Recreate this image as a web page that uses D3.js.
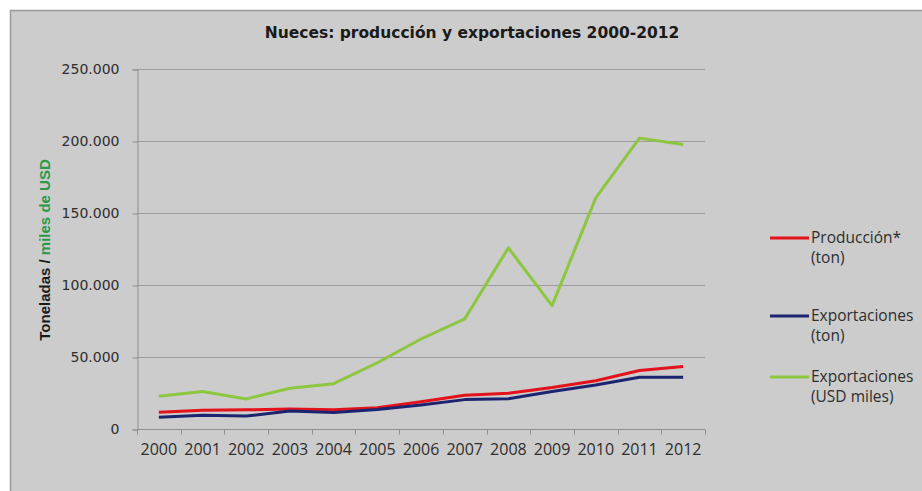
<!DOCTYPE html>
<html>
<head>
<meta charset="utf-8">
<script src="https://cdn.jsdelivr.net/npm/d3@7"></script>
<style>
  body { margin: 0; background: #fff; }
  svg { display: block; }
</style>
</head>
<body>
<script>
// data
var years = ['2000','2001','2002','2003','2004','2005','2006','2007','2008','2009','2010','2011','2012'];
var produccionTon = [11600, 13000, 13300, 13900, 13300, 14800, 19000, 23500, 24800, 28800, 33500, 40600, 43400];
var exportTon = [8100, 9600, 9000, 12500, 11500, 13500, 16700, 20400, 21000, 26000, 30600, 36000, 36000];
var exportUsd = [22800, 26000, 20900, 28300, 31500, 46000, 62500, 76500, 125800, 85700, 160500, 202000, 197500];
var yTicks = [0, 50000, 100000, 150000, 200000, 250000];

var series = [
  { name: ['Producción*', '(ton)'], values: produccionTon, color: '#e3121b' },
  { name: ['Exportaciones', '(ton)'], values: exportTon, color: '#1c2470' },
  { name: ['Exportaciones', '(USD miles)'], values: exportUsd, color: '#8dc63f' }
];

var W = 922, H = 491;
var plot = { left: 137, right: 705, top: 69, bottom: 429 };

var svg = d3.select('body').append('svg')
  .attr('width', W)
  .attr('height', H);

// chart frame
svg.append('rect')
  .attr('x', 10.5).attr('y', 10.5)
  .attr('width', W + 10).attr('height', H + 10)
  .attr('fill', '#cccccc')
  .attr('stroke', '#9a9a9a')
  .attr('stroke-width', 1.5);

var x = d3.scaleBand()
  .domain(years)
  .range([plot.left, plot.right])
  .paddingInner(0).paddingOuter(0);

var y = d3.scaleLinear()
  .domain([0, 250000])
  .range([plot.bottom, plot.top]);

// gridlines
svg.append('g').selectAll('line')
  .data(yTicks.filter(d => d > 0))
  .enter().append('line')
  .attr('x1', plot.left).attr('x2', plot.right)
  .attr('y1', d => y(d) + 0.5).attr('y2', d => y(d) + 0.5)
  .attr('stroke', '#9b9b9b')
  .attr('stroke-width', 1.2);

// y axis
var yAxis = d3.axisLeft(y)
  .tickValues(yTicks)
  .tickSize(5)
  .tickPadding(13)
  .tickFormat(d => d === 0 ? '0' : d3.format(',')(d).replace(/,/g, '.'));

var gy = svg.append('g')
  .attr('transform', 'translate(' + (plot.left + 0.5) + ',0.5)')
  .call(yAxis);
gy.select('.domain').attr('stroke', '#8f8f8f');
gy.selectAll('.tick line').attr('stroke', '#8f8f8f');
gy.selectAll('text')
  .attr('fill', '#2e2e2e')
  .style('font-family', '"DejaVu Sans", Verdana, sans-serif')
  .style('font-size', '14px');

// x axis: ticks between categories
var gx = svg.append('g')
  .attr('transform', 'translate(0,' + (plot.bottom + 0.5) + ')');
gx.append('line')
  .attr('x1', plot.left).attr('x2', plot.right)
  .attr('stroke', '#8f8f8f');
var edges = years.map(d => x(d)).concat([x(years[years.length - 1]) + x.bandwidth()]);
gx.selectAll('.tk')
  .data(edges)
  .enter().append('line')
  .attr('class', 'tk')
  .attr('x1', d => Math.round(d) + 0.5).attr('x2', d => Math.round(d) + 0.5)
  .attr('y1', 0).attr('y2', 5)
  .attr('stroke', '#8f8f8f');
gx.selectAll('text')
  .data(years)
  .enter().append('text')
  .attr('x', d => x(d) + x.bandwidth() / 2)
  .attr('y', 25)
  .attr('text-anchor', 'middle')
  .attr('fill', '#2e2e2e')
  .style('font-family', '"Open Sans", sans-serif')
  .style('font-size', '16px')
  .text(d => d);

// lines
var line = d3.line()
  .x((d, i) => x(years[i]) + x.bandwidth() / 2)
  .y(d => y(d));

svg.append('g').selectAll('path')
  .data(series)
  .enter().append('path')
  .attr('d', d => line(d.values))
  .attr('fill', 'none')
  .attr('stroke', d => d.color)
  .attr('stroke-width', 3)
  .attr('stroke-linejoin', 'round');

// title
svg.append('text')
  .attr('x', 472).attr('y', 38)
  .attr('text-anchor', 'middle')
  .attr('fill', '#1a1a1a')
  .style('font-family', '"DejaVu Sans", Verdana, sans-serif')
  .style('font-weight', 'bold')
  .style('font-size', '15.5px')
  .text('Nueces: producción y exportaciones 2000-2012');

// y axis title, two colours
var yt = svg.append('text')
  .attr('transform', 'translate(50,250) rotate(-90)')
  .attr('text-anchor', 'middle')
  .style('font-family', '"Liberation Sans", Arial, sans-serif')
  .style('font-weight', 'bold')
  .style('font-size', '15px');
yt.append('tspan').attr('fill', '#1a1a1a').text('Toneladas / ');
yt.append('tspan').attr('fill', '#2a9a4a').text('miles de USD');

// legend
var legendY = [238, 316, 377];
var lg = svg.append('g').selectAll('g')
  .data(series)
  .enter().append('g')
  .attr('transform', (d, i) => 'translate(770,' + legendY[i] + ')');
lg.append('line')
  .attr('x1', 0).attr('x2', 39)
  .attr('stroke', d => d.color)
  .attr('stroke-width', 3);
lg.selectAll('text')
  .data(d => d.name)
  .enter().append('text')
  .attr('x', 41)
  .attr('y', (d, i) => 5 + i * 20)
  .attr('fill', '#2e2e2e')
  .style('font-family', '"Open Sans", sans-serif')
  .style('font-size', '15.5px')
  .text(d => d);
</script>
</body>
</html>
